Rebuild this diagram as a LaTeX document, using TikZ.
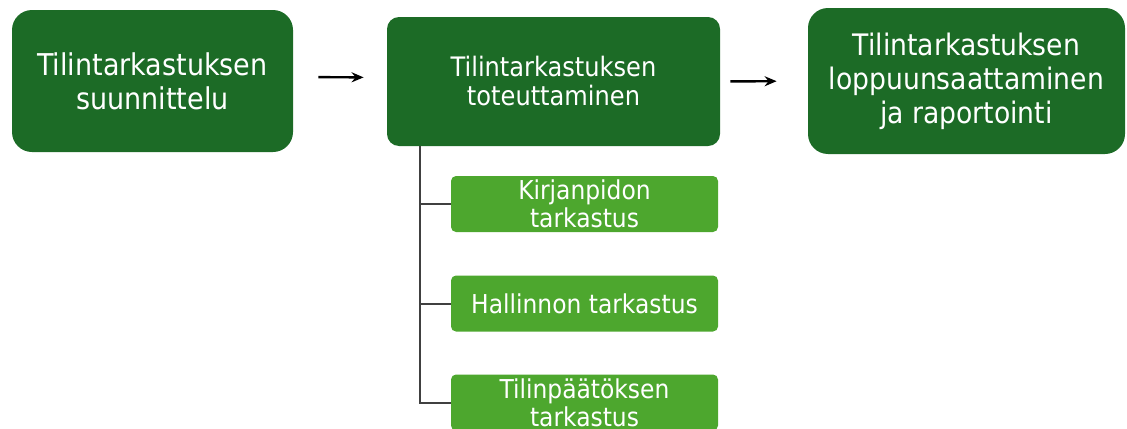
\documentclass[tikz,border=0pt]{standalone}
\usepackage{fontspec}
\setmainfont{DejaVu Sans Condensed}
\usetikzlibrary{arrows.meta}
\definecolor{phasegreen}{RGB}{28,107,38}
\definecolor{taskgreen}{RGB}{77,167,46}

\begin{document}
\begin{tikzpicture}[
        x=0.5pt, y=-0.5pt,
        phase/.style={rectangle, fill=phasegreen, text=white, align=center, inner sep=0pt},
        task/.style={rectangle, fill=taskgreen, text=white, align=center, inner sep=0pt, rounded corners=2.5pt,
            minimum width=133.5pt, minimum height=28pt, font=\fontsize{13}{14}\selectfont},
        arrow/.style={-{Stealth[length=6pt,width=5pt]}, line width=1.2pt, black},
        branch/.style={line width=1pt, draw=black!75}
    ]
        \clip (0,0) rectangle (1127,428);

        % Phases
        \node[phase, rounded corners=10pt, minimum width=140.5pt, minimum height=71pt,
            font=\fontsize{15}{17}\selectfont] (plan) at (152.5,81) {Tilintarkastuksen\\suunnittelu};
        \node[phase, rounded corners=6pt, minimum width=166.5pt, minimum height=64.5pt,
            font=\fontsize{13.4}{14.5}\selectfont] (exec) at (553.5,81.5) {Tilintarkastuksen\\toteuttaminen};
        \node[phase, rounded corners=10pt, minimum width=158.5pt, minimum height=73pt,
            font=\fontsize{14.8}{17}\selectfont] (report) at (966.5,81) {Tilintarkastuksen\\loppuunsaattaminen\\ja raportointi};

        % Tasks
        \node[task] (books) at (584.5,204) {Kirjanpidon\\tarkastus};
        \node[task] (admin) at (584.5,303.5) {Hallinnon tarkastus};
        \node[task] (accounts) at (584.5,402.5) {Tilinpäätöksen\\tarkastus};

        \draw[arrow, shorten <=12.5pt, shorten >=11.5pt] ([yshift=2pt]plan.east) -- ([yshift=2pt]exec.west);
        \draw[arrow, shorten <=5pt, shorten >=15.5pt] (exec.east) -- (report.west);

        \draw[branch] ([xshift=16.5pt]exec.south west) |- (books.west);
        \draw[branch] ([xshift=16.5pt]exec.south west) |- (admin.west);
        \draw[branch] ([xshift=16.5pt]exec.south west) |- (accounts.west);
    \end{tikzpicture}
\end{document}
